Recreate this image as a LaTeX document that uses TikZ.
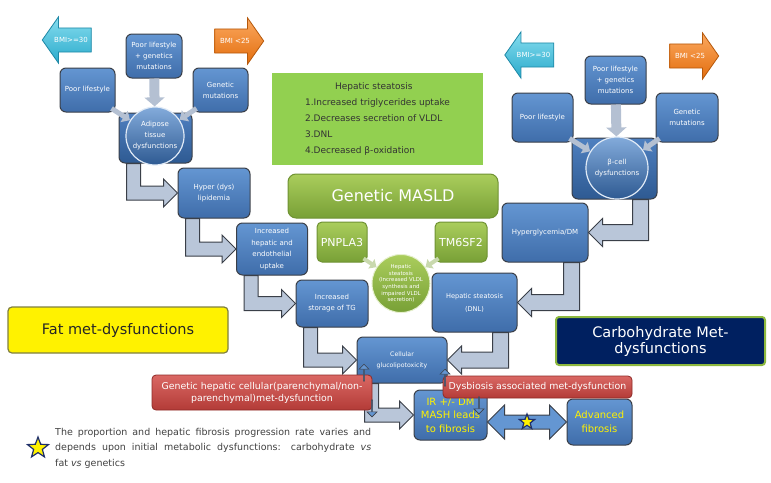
\documentclass[tikz,border=0pt]{standalone}
\usepackage{fontspec}
\setmainfont{DejaVu Sans}
\usepackage{xcolor}
\usetikzlibrary{shapes,arrows.meta,positioning,calc}

\definecolor{boxtop}{HTML}{6496D2}
\definecolor{boxbot}{HTML}{3F6DAA}
\definecolor{boxline}{HTML}{3A3F48}
\definecolor{sqtop}{HTML}{4F80C0}
\definecolor{sqbot}{HTML}{2E5A92}
\definecolor{arrowfill}{HTML}{B9C6D9}
\definecolor{smallgray}{HTML}{B4C0D2}
\definecolor{hsgreen}{HTML}{92D050}
\definecolor{grtop}{HTML}{AACD5C}
\definecolor{grbot}{HTML}{78A036}
\definecolor{grline}{HTML}{6F9233}
\definecolor{greenarr}{HTML}{C9D9AE}
\definecolor{redtop}{HTML}{DA6864}
\definecolor{redbot}{HTML}{B33B37}
\definecolor{redline}{HTML}{8E2A27}
\definecolor{cyantop}{HTML}{86DDEF}
\definecolor{cyanbot}{HTML}{2AAACB}
\definecolor{cyanline}{HTML}{1E88A6}
\definecolor{orgtop}{HTML}{FBA85F}
\definecolor{orgbot}{HTML}{E36E0E}
\definecolor{orgline}{HTML}{B5580B}
\definecolor{carbnavy}{HTML}{002060}
\definecolor{carbline}{HTML}{8DB83E}
\definecolor{fatline}{HTML}{7F7F40}
\definecolor{starnavy}{HTML}{1F2F6B}
\definecolor{notegray}{HTML}{404040}

% block arrow: down out of #1, then right into #2
\newcommand{\downright}[2]{%
  \draw[bentarrow] let \p1=($(#1.south west)+(15,0)$), \p2=(#2.west) in
    (\x1-7pt,\y1) -- (\x1-7pt,\y2-7pt) -- (\x2-14pt,\y2-7pt) -- (\x2-14pt,\y2-14pt)
    -- (\x2,\y2) -- (\x2-14pt,\y2+14pt) -- (\x2-14pt,\y2+7pt) -- (\x1+7pt,\y2+7pt)
    -- (\x1+7pt,\y1) -- cycle;}
% block arrow: down out of #1, then left into #2
\newcommand{\downleft}[2]{%
  \draw[bentarrow] let \p1=($(#1.south east)+(-17,0)$), \p2=(#2.east) in
    (\x1+8pt,\y1) -- (\x1+8pt,\y2-8pt) -- (\x2+14pt,\y2-8pt) -- (\x2+14pt,\y2-14pt)
    -- (\x2,\y2) -- (\x2+14pt,\y2+14pt) -- (\x2+14pt,\y2+8pt) -- (\x1-8pt,\y2+8pt)
    -- (\x1-8pt,\y1) -- cycle;}

\begin{document}
\begin{tikzpicture}[x=1pt,y=1pt,
  bluebox/.style={rectangle, rounded corners=6pt, draw=boxline, line width=1pt,
    top color=boxtop, bottom color=boxbot, text=white, align=center, inner sep=1pt,
    font=\fontsize{7}{11}\selectfont},
  squarebox/.style={rectangle, rounded corners=6pt, draw=boxline, line width=1pt,
    top color=sqtop, bottom color=sqbot},
  ballnode/.style={circle, draw=white!80!boxtop, line width=1.2pt, top color=boxtop!80!white,
    bottom color=sqbot, text=white, align=center, inner sep=0pt, font=\fontsize{7}{11}\selectfont},
  bentarrow/.style={draw=boxline, line width=1pt, fill=arrowfill, line join=miter},
  grayarrow/.style={draw=smallgray, line width=5pt, -{Triangle[length=7pt,width=13pt]}},
  graydown/.style={draw=smallgray, line width=10pt, -{Triangle[length=9pt,width=20pt]}},
  greenarrow/.style={draw=greenarr, line width=4pt, -{Triangle[length=6pt,width=11pt]}},
  bmiarrow/.style={single arrow, single arrow head extend=11pt, single arrow tip angle=110,
    minimum height=49pt, minimum width=46pt, inner xsep=0pt, inner ysep=9pt, line width=0.8pt,
    text=white, font=\fontsize{7}{8}\selectfont},
  bmicyan/.style={top color=cyantop, bottom color=cyanbot, draw=cyanline},
  bmiorange/.style={top color=orgtop, bottom color=orgbot, draw=orgline},
  greenbox/.style={rectangle, rounded corners=5pt, draw=grline, line width=1pt,
    top color=grtop, bottom color=grbot, text=white, font=\fontsize{11}{13}\selectfont},
  greenball/.style={circle, draw=white!70!grtop, line width=1pt, top color=grtop,
    bottom color=grbot, text=white, align=center, inner sep=0pt,
    font=\fontsize{5.4}{6.6}\selectfont},
  hsbox/.style={rectangle, fill=hsgreen, minimum width=211pt, minimum height=92pt,
    align=left, text=black!80, font=\fontsize{9}{16}\selectfont},
  redbar/.style={rectangle, rounded corners=4pt, draw=redline, line width=0.8pt,
    top color=redtop, bottom color=redbot, text=white, align=center, inner sep=1pt,
    font=\fontsize{9.4}{12}\selectfont},
  tinyarrow/.style={single arrow, draw=boxline, line width=0.6pt, fill=boxtop,
    minimum width=10pt, minimum height=17pt, single arrow head extend=2pt, inner sep=0pt},
  starnode/.style={star, star points=5, star point ratio=2.4, fill=yellow, draw=starnavy,
    line width=1.2pt, inner sep=0pt},
  irfont/.style={text=yellow, font=\fontsize{10}{13.5}\selectfont}]

\useasboundingbox (0,0) rectangle (771,-482);

% left column: fat
\node[bmiarrow, bmicyan, shape border rotate=180] (bmiL) at (71,-40) {BMI>=30};
\node[bluebox, minimum width=56pt, minimum height=44pt] (plgL) at (154,-56) {Poor lifestyle\\+ genetics\\mutations};
\node[bmiarrow, bmiorange] (bmiR) at (235,-41) {BMI <25};
\node[bluebox, minimum width=55pt, minimum height=44pt] (plL) at (87.5,-90) {Poor lifestyle};
\node[bluebox, minimum width=55pt, minimum height=44pt] (gmL) at (220.5,-90) {Genetic\\mutations};
\node[squarebox, minimum width=73pt, minimum height=50pt] (adipbox) at (155.5,-138) {};
\node[ballnode, minimum size=58pt] (adip) at (155,-136) {Adipose\\tissue\\dysfunctions};
\draw[graydown] (plgL) -- (adip);
\draw[grayarrow] ($(plL.south east)+(-4,4)$) -- (adip);
\draw[grayarrow] ($(gmL.south west)+(4,4)$) -- (adip);

\node[bluebox, minimum width=72pt, minimum height=50pt] (hyper) at (214,-193) {Hyper (dys)\\lipidemia};
\node[bluebox, minimum width=71pt, minimum height=52pt, font=\fontsize{7}{11.5}\selectfont] (uptake) at (272,-249) {Increased\\hepatic and\\endothelial\\uptake};
\node[bluebox, minimum width=72pt, minimum height=47pt] (storage) at (332,-303.5) {Increased\\storage of TG};
\node[bluebox, minimum width=90pt, minimum height=46pt, font=\fontsize{6.2}{11}\selectfont] (cellular) at (402,-360) {Cellular\\glucolipotoxicity};
\node[bluebox, irfont, minimum width=73pt, minimum height=50pt] (ir) at (450.5,-415) {IR +/- DM\\MASH leads\\to fibrosis};
\node[bluebox, irfont, minimum width=65pt, minimum height=46pt] (adv) at (599.5,-422) {Advanced\\fibrosis};

% right column: carbohydrate
\node[bmiarrow, bmicyan, shape border rotate=180] (bmiL2) at (533.5,-55) {BMI>=30};
\node[bluebox, minimum width=61pt, minimum height=48pt] (plgR) at (615.5,-80) {Poor lifestyle\\+ genetics\\mutations};
\node[bmiarrow, bmiorange] (bmiR2) at (690,-56) {BMI <25};
\node[bluebox, minimum width=61pt, minimum height=49pt] (plR) at (542.5,-117.5) {Poor lifestyle};
\node[bluebox, minimum width=62pt, minimum height=49pt] (gmR) at (687,-117.5) {Genetic\\mutations};
\node[squarebox, minimum width=85pt, minimum height=61pt] (betabox) at (614.5,-168.5) {};
\node[ballnode, minimum size=62pt] (beta) at (617,-168) {β-cell\\dysfunctions};
\draw[graydown] (plgR) -- (beta);
\draw[grayarrow] ($(plR.south east)+(-4,4)$) -- (beta);
\draw[grayarrow] ($(gmR.south west)+(4,4)$) -- (beta);

\node[bluebox, minimum width=86pt, minimum height=59pt] (hyperg) at (545,-232.5) {Hyperglycemia/DM};
\node[bluebox, minimum width=85pt, minimum height=59pt, font=\fontsize{6.6}{13}\selectfont] (dnl) at (474.5,-302.5) {Hepatic steatosis\\(DNL)};

% middle: genetics
\node[hsbox] (hs) at (377.5,-119) {\hspace*{30pt}Hepatic steatosis\\1.Increased triglycerides uptake\\2.Decreases secretion of VLDL\\3.DNL\\4.Decreased β-oxidation};
\node[greenbox, rounded corners=8pt, minimum width=210pt, minimum height=44pt, font=\fontsize{16}{19}\selectfont] (masld) at (393,-196) {Genetic MASLD};
\node[greenbox, minimum width=50pt, minimum height=40pt] (pnpla) at (342,-242) {PNPLA3};
\node[greenbox, minimum width=52pt, minimum height=40pt] (tm6) at (461,-242) {TM6SF2};
\node[greenball, minimum size=54pt] (hsball) at (401,-283.5) {Hepatic\\steatosis\\(Increased VLDL\\synthesis and\\impaired VLDL\\secretion)};
\draw[greenarrow] ($(pnpla.south east)+(-4,4)$) -- (hsball);
\draw[greenarrow] ($(tm6.south west)+(4,4)$) -- (hsball);

\node[rectangle, rounded corners=4pt, fill=yellow, draw=fatline, line width=1.2pt, minimum width=220pt, minimum height=46pt, text=black!85, font=\fontsize{14.5}{17}\selectfont] (fat) at (118,-330) {Fat met-dysfunctions};
\node[rectangle, rounded corners=3pt, fill=carbnavy, draw=carbline, line width=2pt, minimum width=209pt, minimum height=48pt, text=white, align=center, font=\fontsize{14.5}{16}\selectfont] (carb) at (660.5,-341) {Carbohydrate Met-\\dysfunctions};

% block arrows
\downright{adipbox}{hyper}
\downright{hyper}{uptake}
\downright{uptake}{storage}
\downright{storage}{cellular}
\downright{cellular}{ir}
\downleft{betabox}{hyperg}
\downleft{hyperg}{dnl}
\downleft{dnl}{cellular}

\node[redbar, minimum width=220pt, minimum height=35pt] (genbar) at (262,-392.5) {Genetic hepatic cellular(parenchymal/non-\\parenchymal)met-dysfunction};
\node[redbar, minimum width=189pt, minimum height=22pt] (dysbar) at (537.5,-387) {Dysbiosis associated met-dysfunction};

\node[tinyarrow, shape border rotate=90] (upl) at (364,-373) {};
\node[tinyarrow, shape border rotate=270] (downl) at (372,-408) {};
\node[tinyarrow, shape border rotate=90] (upr) at (445,-378) {};
\node[tinyarrow, shape border rotate=270] (downr) at (479,-405) {};

\draw[draw=boxline, line width=1pt, fill=boxtop] let \p1=(ir.east), \p2=(adv.west) in
  (\x1,\y2) -- (\x1+17pt,\y2+17pt) -- (\x1+17pt,\y2+7pt) -- (\x2-17pt,\y2+7pt)
  -- (\x2-17pt,\y2+17pt) -- (\x2,\y2) -- (\x2-17pt,\y2-17pt) -- (\x2-17pt,\y2-7pt)
  -- (\x1+17pt,\y2-7pt) -- (\x1+17pt,\y2-17pt) -- cycle;
\node[starnode, minimum size=16pt] (midstar) at ($(ir.east |- adv.west)!0.5!(adv.west)$) {};

% footnote
\node[starnode, minimum size=22pt] (fnstar) at (38,-448) {};
\node[anchor=west, text width=316pt, align=justify, text=notegray, inner sep=0pt, font=\fontsize{9.5}{15.5}\selectfont] (note) at (55,-448) {The proportion and hepatic fibrosis progression rate varies and\linebreak depends upon initial metabolic dysfunctions: carbohydrate \textit{vs}\linebreak fat \textit{vs} genetics};
\end{tikzpicture}
\end{document}
